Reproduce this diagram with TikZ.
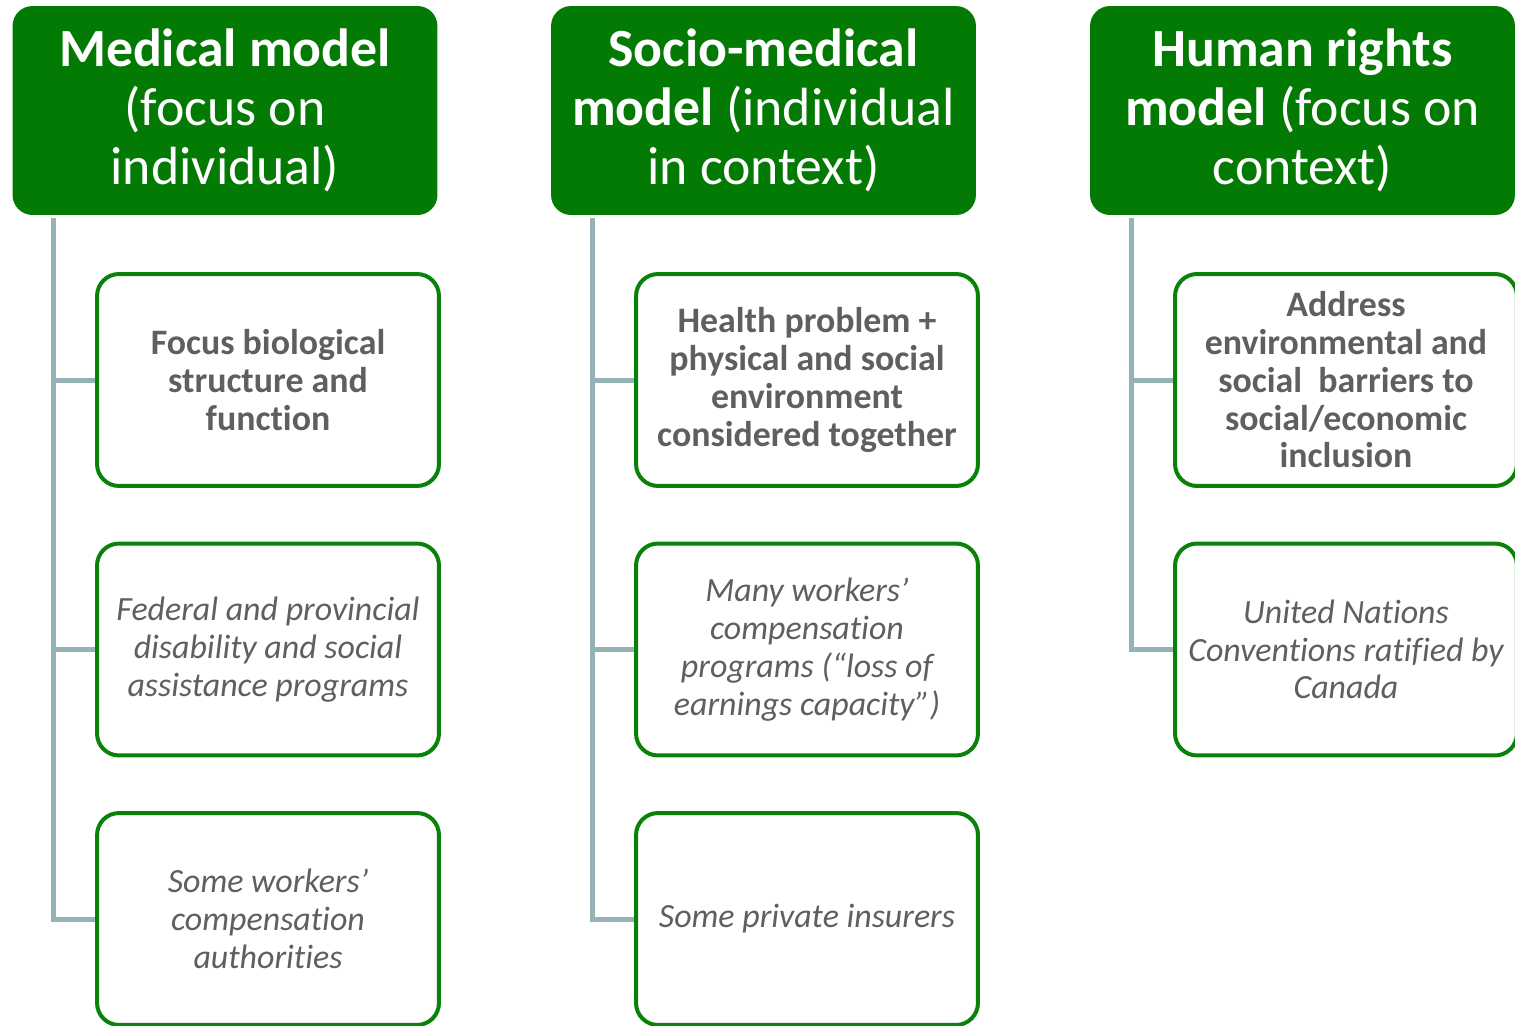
\documentclass[tikz,border=0pt]{standalone}
\usepackage{fontspec}
\setmainfont{Carlito}[Ligatures={NoCommon}]
\usepackage{xcolor}
\usepackage{tikz}
\definecolor{headgreen}{HTML}{037A03}
\definecolor{cardgreen}{HTML}{0A820A}
\definecolor{spinegrey}{HTML}{95B3B7}
\definecolor{textgrey}{HTML}{5F5F5F}
\tikzset{
  head/.style={fill=headgreen, rounded corners=0.4cm, minimum width=8.5cm, minimum height=4.18cm,
    inner sep=0pt, text=white, align=center, font=\fontsize{30.6}{33.4}\selectfont},
  card/.style={draw=cardgreen, fill=white, line width=0.08cm, rounded corners=0.44cm,
    minimum width=6.84cm, minimum height=4.24cm, inner sep=0pt, text=textgrey, align=center},
  cardb/.style={card, font=\fontsize{20.4}{21.5}\selectfont\bfseries},
  cardi/.style={card, font=\fontsize{19.3}{21.5}\selectfont\itshape},
  link/.style={draw=spinegrey, line width=0.1cm, line join=miter},
}
\begin{document}
\begin{tikzpicture}[x=0.02cm,y=-0.02cm]
  \useasboundingbox (0,0) rectangle (1515,1025);
  % headers
  \node[head] (h1) at (225,110.5) {\textbf{Medical model}\\(focus on\\individual)};
  \node[head] (h2) at (763.5,110.5) {\textbf{Socio-medical}\\\textbf{model} (individual\\in context)};
  \node[head] (h3) at (1302.5,110.5) {\textbf{Human rights}\\\textbf{model} (focus on\\context)};
  % column 1
  \node[cardb] (b11) at (268,380) {Focus biological\\structure and\\function};
  \node[cardi] (b12) at (268,649.5) {Federal and provincial\\disability and social\\assistance programs};
  \node[cardi] (b13) at (268,919) {Some workers’\\compensation\\authorities};
  % column 2
  \node[cardb] (b21) at (807,380) {Health problem +\\physical and social\\environment\\considered together};
  \node[cardi] (b22) at (807,649.5) {Many workers’\\compensation\\programs (“loss of\\earnings capacity”)};
  \node[cardi] (b23) at (807,919) {Some private insurers};
  % column 3
  \node[cardb] (b31) at (1346,380) {Address\\environmental and\\social~ barriers to\\social/economic\\inclusion};
  \node[cardi] (b32) at (1346,649.5) {United Nations\\Conventions ratified by\\Canada};
  % spines
  \coordinate (t1) at (53,218);
  \coordinate (t2) at (592,218);
  \coordinate (t3) at (1131,218);
  \draw[link] (t1) |- (b13.west) (t1 |- b11.west) -- (b11.west) (t1 |- b12.west) -- (b12.west);
  \draw[link] (t2) |- (b23.west) (t2 |- b21.west) -- (b21.west) (t2 |- b22.west) -- (b22.west);
  \draw[link] (t3) |- (b32.west) (t3 |- b31.west) -- (b31.west);
\end{tikzpicture}
\end{document}
